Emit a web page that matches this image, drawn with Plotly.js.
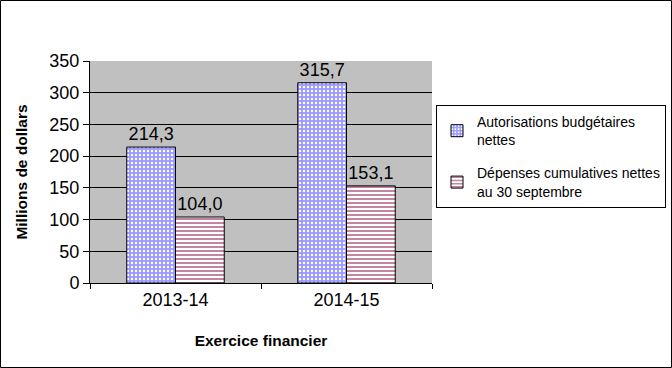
<!DOCTYPE html>
<html><head><meta charset="utf-8">
<script src="https://cdn.plot.ly/plotly-3.0.1.min.js"></script>
<style>html,body{margin:0;padding:0;background:#fff}</style>
</head><body>
<div id="chart" style="width:672px;height:368px"></div>
<script>
var categories = ['2013-14', '2014-15'];
var seriesNames = ['Autorisations budgétaires<br>nettes', 'Dépenses cumulatives nettes<br>au 30 septembre'];
var autorisations = [214.3, 315.7];
var depenses = [104.0, 153.1];
var yTicks = [0, 50, 100, 150, 200, 250, 300, 350];

var L = 90, R = 432, T = 61, B = 283, W = 672, H = 368;
var pw = R - L, ph = B - T;
var FONT = 'Liberation Sans, Arial';

var traces = [
  {type:'bar', x:categories, y:autorisations, name:seriesNames[0], legendgroup:'g1',
   marker:{color:'#9999ff', line:{color:'#000', width:1},
     pattern:{shape:'.', bgcolor:'#9999ff', fgcolor:'#ffffff', size:4, solidity:0.3}},
   texttemplate:'%{y:.1f}', textposition:'outside', cliponaxis:false,
   textfont:{family:FONT, size:18, color:'#000'}},
  {type:'bar', x:categories, y:depenses, name:seriesNames[1], legendgroup:'g2',
   marker:{color:'#ffffff', line:{color:'#000', width:1},
     pattern:{shape:'-', bgcolor:'#ffffff', fgcolor:'#993366', size:4, solidity:0.3}},
   texttemplate:'%{y:.1f}', textposition:'outside', cliponaxis:false,
   textfont:{family:FONT, size:18, color:'#000'}}
];

var layout = {
  width:W, height:H,
  margin:{l:L, r:W-R, t:T, b:H-B, pad:0, autoexpand:false},
  paper_bgcolor:'#fff', plot_bgcolor:'#c0c0c0',
  separators:',.',
  font:{family:FONT, color:'#000'},
  barmode:'group', bargap:0.43, bargroupgap:0,
  showlegend:true,
  legend:{xref:'container', yref:'container', x:436/W, xanchor:'left', y:(H-105)/H, yanchor:'top',
    bgcolor:'#fff', bordercolor:'#000', borderwidth:1, traceorder:'grouped',
    font:{size:14, family:FONT}, tracegroupgap:12, itemwidth:30},
  xaxis:{type:'category', tickson:'boundaries', ticks:'outside', ticklen:5, tickcolor:'#000',
    showline:true, linecolor:'#000', linewidth:1, showgrid:false,
    tickfont:{size:18}, title:{text:'<b>Exercice financier</b>', font:{size:15.5}, standoff:26}},
  yaxis:{range:[0,350], tickvals:yTicks, ticks:'outside', ticklen:6, tickcolor:'#000',
    showline:true, linecolor:'#000', linewidth:1, showgrid:true, gridcolor:'#000', gridwidth:1,
    zeroline:false, tickfont:{size:18}, title:{text:'<b>Millions de dollars</b>', font:{size:15.5}, standoff:17}},
  shapes:[{type:'rect', xref:'paper', yref:'paper',
    x0:(0.5-L)/pw, x1:(W-0.5-L)/pw, y0:(B-(H-0.5))/ph, y1:(B-0.5)/ph,
    line:{color:'#000', width:1}, fillcolor:'rgba(0,0,0,0)', layer:'below'}]
};

Plotly.newPlot('chart', traces, layout, {displayModeBar:false, staticPlot:true});
</script>
</body></html>
